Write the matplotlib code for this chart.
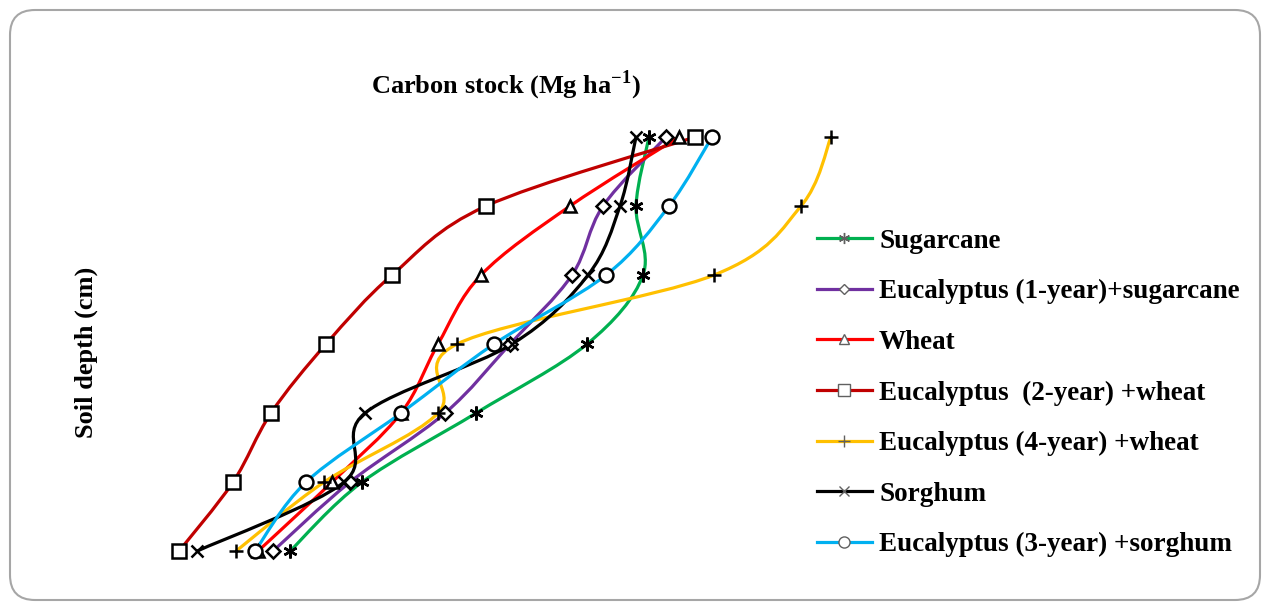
import matplotlib.pyplot as plt
from matplotlib.lines import Line2D
from matplotlib.path import Path
from matplotlib.patches import PathPatch, FancyBboxPatch

plt.rcParams['font.family'] = ['Liberation Serif', 'DejaVu Serif']
plt.rcParams['mathtext.fontset'] = 'custom'
plt.rcParams['mathtext.rm'] = 'Liberation Serif'
plt.rcParams['mathtext.bf'] = 'Liberation Serif:bold'

# soil depth (cm) and carbon stock (Mg ha-1) per system
depth = [15, 30, 45, 60, 75, 90, 105]
sugarcane = [54.9, 53.6, 54.3, 48.7, 37.6, 26.2, 19.0]
euc1_sugarcane = [56.6, 50.3, 47.2, 41.0, 34.5, 25.0, 17.3]
wheat = [57.9, 47.0, 38.1, 33.8, 30.1, 23.2, 15.8]
euc2_wheat = [59.5, 38.6, 29.2, 22.6, 17.1, 13.3, 7.9]
euc4_wheat = [73.1, 70.1, 61.4, 35.7, 33.8, 22.4, 13.6]
sorghum = [53.6, 52.0, 48.8, 41.2, 26.5, 24.4, 9.7]
euc3_sorghum = [61.2, 56.9, 50.6, 39.4, 30.1, 20.6, 15.5]

labels = ['Sugarcane', 'Eucalyptus (1-year)+sugarcane', 'Wheat',
          'Eucalyptus  (2-year) +wheat', 'Eucalyptus (4-year) +wheat',
          'Sorghum', 'Eucalyptus (3-year) +sorghum']
series = [sugarcane, euc1_sugarcane, wheat, euc2_wheat, euc4_wheat, sorghum, euc3_sorghum]
colors = ['#00B050', '#7030A0', '#FF0000', '#C00000', '#FFC000', '#000000', '#00B0F0']
markers = [(6, 2, 0), 'D', '^', 's', '+', 'x', 'o']
msizes = [10, 7, 9, 10, 10, 9, 10]


def smooth_path(xs, ys):
    # excel-like smoothed line (catmull-rom as cubic bezier)
    pts = list(zip(xs, ys))
    n = len(pts)
    verts = [pts[0]]
    codes = [Path.MOVETO]
    for i in range(n - 1):
        p0 = pts[i - 1] if i > 0 else pts[i]
        p1 = pts[i]
        p2 = pts[i + 1]
        p3 = pts[i + 2] if i + 2 < n else pts[i + 1]
        c1 = (p1[0] + (p2[0] - p0[0]) / 6, p1[1] + (p2[1] - p0[1]) / 6)
        c2 = (p2[0] - (p3[0] - p1[0]) / 6, p2[1] - (p3[1] - p1[1]) / 6)
        verts += [c1, c2, p2]
        codes += [Path.CURVE4] * 3
    return Path(verts, codes)


fig = plt.figure(figsize=(12.67, 6.02), dpi=100)
ax = fig.add_axes([150 / 1267, 32 / 602, 700 / 1267, 450 / 602])
ax.set_xlim(5, 75)
ax.set_ylim(109.1, 11.3)
ax.axis('off')

for vals, c in zip(series, colors):
    ax.add_patch(PathPatch(smooth_path(vals, depth), facecolor='none',
                           edgecolor=c, lw=2.3, zorder=2, capstyle='butt'))

# markers: hidden ones first so the others sit on top
order = [1, 2, 0, 3, 4, 5, 6]
for i in order:
    ax.plot(series[i], depth, linestyle='none', marker=markers[i],
            ms=msizes[i], mfc='white', mec='black', mew=1.8, zorder=3)

fig.text(506 / 1267, 1 - 85 / 602, r'Carbon stock (Mg ha$^{\mathbf{-1}}$)',
         ha='center', va='center', fontsize=19, fontweight='bold')
fig.text(86 / 1267, 1 - 352 / 602, 'Soil depth (cm)', rotation=90,
         ha='center', va='center', fontsize=19, fontweight='bold')

handles = []
for c, m, s in zip(colors, markers, msizes):
    handles.append(Line2D([], [], color=c, lw=2.3, marker=m, ms=s * 0.8,
                          mfc='white', mec='#606060', mew=1.0))
fig.legend(handles, labels, loc='center left', bbox_to_anchor=(817 / 1267, 1 - 393 / 602),
           frameon=False, prop={'size': 19.5, 'weight': 'bold'}, handlelength=2.03,
           handletextpad=0.26, labelspacing=0.94, borderpad=0, borderaxespad=0)

border = FancyBboxPatch((0.1, 0.02), 12.5, 5.9, boxstyle='round,pad=0,rounding_size=0.25',
                        transform=fig.dpi_scale_trans, facecolor='none',
                        edgecolor='#A6A6A6', lw=1.5)
fig.patches.append(border)

fig.savefig('out.png', dpi=100)
